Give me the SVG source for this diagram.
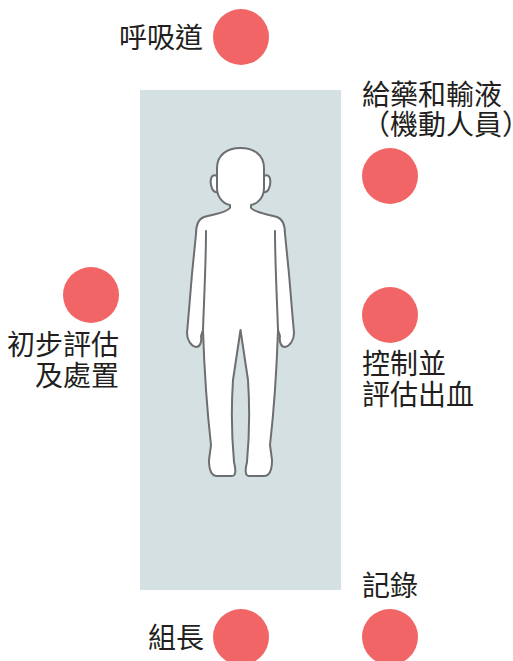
<svg xmlns="http://www.w3.org/2000/svg" width="513" height="661" viewBox="0 0 513 661">
  <style>
    .bed { fill: #d5e0e2; }
    .dot { fill: #f26566; }
    .label { font-family: "Noto Sans CJK TC", "Noto Sans CJK SC", sans-serif; font-size: 28px; fill: #231f20; }
    .end { text-anchor: end; }
    .figure { fill: #ffffff; stroke: #6d6e71; stroke-width: 2; stroke-linejoin: round; stroke-linecap: round; }
    .line { fill: none; stroke: #6d6e71; stroke-width: 2; stroke-linecap: round; }
  </style>

  <!-- stretcher area -->
  <g id="bed">
    <rect class="bed" x="140" y="90" width="201" height="500"/>
  </g>

  <!-- patient outline -->
  <g id="patient">
    <path class="figure" d="M217,176 C211,173 210,180 211,185 C212,190 214,193 218,192 Z"/>
    <path class="figure" d="M264,176 C270,173 271,180 270,185 C269,190 267,193 263,192 Z"/>
    <path class="figure" d="M240.5,148 C227,148 217,155 217,168 L217,188 C217,198 224,204 230,205 L230,208 C226,213 214,214 204,217 C198,219 196,226 196,234 L192,274 L189,310 L187,333 C187,340 191,346 196,347 C200,347 202,342 201,336 L203,330 C204,360 207,410 211,445 L209,460 C209,470 211,476 217,476 L232,476 C236,476 236,470 234,462 C232,440 231,410 233,380 L240.5,330 L248,380 C250,410 249,440 247,462 C245,470 245,476 249,476 L264,476 C270,476 272,470 272,460 L270,445 C274,410 277,360 278,330 L280,336 C279,342 281,347 285,347 C290,346 294,340 294,333 L292,310 L289,274 L285,234 C285,226 283,219 277,217 C267,214 255,213 251,208 L251,205 C257,204 264,198 264,188 L264,168 C264,155 254,148 240.5,148 Z"/>
    <path class="line" d="M206,231 C206,262 204,300 203,330"/>
    <path class="line" d="M275,231 C275,262 277,300 278,330"/>
  </g>

  <!-- team positions -->
  <g id="airway">
    <circle class="dot" cx="241" cy="37" r="28"/>
    <text class="label end" x="203" y="48">呼吸道</text>
  </g>
  <g id="medication">
    <circle class="dot" cx="390" cy="176" r="28"/>
    <text class="label" x="362" y="105">給藥和輸液</text>
    <text class="label" x="362" y="135">（機動人員）</text>
  </g>
  <g id="assessment">
    <circle class="dot" cx="91" cy="295" r="28"/>
    <text class="label end" x="119" y="355">初步評估</text>
    <text class="label end" x="119" y="386">及處置</text>
  </g>
  <g id="bleeding">
    <circle class="dot" cx="390" cy="315" r="28"/>
    <text class="label" x="362" y="374">控制並</text>
    <text class="label" x="362" y="405">評估出血</text>
  </g>
  <g id="leader">
    <circle class="dot" cx="241" cy="637" r="28"/>
    <text class="label" x="148" y="648">組長</text>
  </g>
  <g id="recorder">
    <circle class="dot" cx="390" cy="637" r="28"/>
    <text class="label" x="362" y="596">記錄</text>
  </g>
</svg>
